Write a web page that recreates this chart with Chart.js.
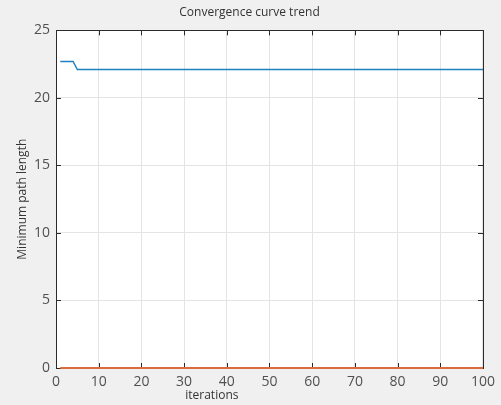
<!DOCTYPE html>
<html>
<head>
<meta charset="utf-8">
<script src="https://cdn.jsdelivr.net/npm/chart.js@4/dist/chart.umd.min.js"></script>
<style>
  html, body { margin: 0; padding: 0; background: #f0f0f0; }
  #wrap { width: 501px; height: 405px; }
</style>
</head>
<body>
<div id="wrap"><canvas id="conv" width="501" height="405"></canvas></div>
<script>
// --- data ---
const iterations = [
  1, 2, 3, 4, 5, 6, 7, 8, 9, 10, 11, 12, 13, 14, 15, 16, 17, 18, 19, 20,
  21, 22, 23, 24, 25, 26, 27, 28, 29, 30, 31, 32, 33, 34, 35, 36, 37, 38, 39, 40,
  41, 42, 43, 44, 45, 46, 47, 48, 49, 50, 51, 52, 53, 54, 55, 56, 57, 58, 59, 60,
  61, 62, 63, 64, 65, 66, 67, 68, 69, 70, 71, 72, 73, 74, 75, 76, 77, 78, 79, 80,
  81, 82, 83, 84, 85, 86, 87, 88, 89, 90, 91, 92, 93, 94, 95, 96, 97, 98, 99, 100
];
// best path length per iteration
const bestLength = [
  22.7, 22.7, 22.7, 22.7, 22.1, 22.1, 22.1, 22.1, 22.1, 22.1,
  22.1, 22.1, 22.1, 22.1, 22.1, 22.1, 22.1, 22.1, 22.1, 22.1,
  22.1, 22.1, 22.1, 22.1, 22.1, 22.1, 22.1, 22.1, 22.1, 22.1,
  22.1, 22.1, 22.1, 22.1, 22.1, 22.1, 22.1, 22.1, 22.1, 22.1,
  22.1, 22.1, 22.1, 22.1, 22.1, 22.1, 22.1, 22.1, 22.1, 22.1,
  22.1, 22.1, 22.1, 22.1, 22.1, 22.1, 22.1, 22.1, 22.1, 22.1,
  22.1, 22.1, 22.1, 22.1, 22.1, 22.1, 22.1, 22.1, 22.1, 22.1,
  22.1, 22.1, 22.1, 22.1, 22.1, 22.1, 22.1, 22.1, 22.1, 22.1,
  22.1, 22.1, 22.1, 22.1, 22.1, 22.1, 22.1, 22.1, 22.1, 22.1,
  22.1, 22.1, 22.1, 22.1, 22.1, 22.1, 22.1, 22.1, 22.1, 22.1
];
// second curve stays at zero
const otherLength = [
  0, 0, 0, 0, 0, 0, 0, 0, 0, 0, 0, 0, 0, 0, 0, 0, 0, 0, 0, 0,
  0, 0, 0, 0, 0, 0, 0, 0, 0, 0, 0, 0, 0, 0, 0, 0, 0, 0, 0, 0,
  0, 0, 0, 0, 0, 0, 0, 0, 0, 0, 0, 0, 0, 0, 0, 0, 0, 0, 0, 0,
  0, 0, 0, 0, 0, 0, 0, 0, 0, 0, 0, 0, 0, 0, 0, 0, 0, 0, 0, 0,
  0, 0, 0, 0, 0, 0, 0, 0, 0, 0, 0, 0, 0, 0, 0, 0, 0, 0, 0, 0
];
const xTicks = [0, 10, 20, 30, 40, 50, 60, 70, 80, 90, 100];
const yTicks = [0, 5, 10, 15, 20, 25];

const FONT = '"Open Sans", "Noto Sans", sans-serif';
const TEXT = '#505050';
const BOX = '#2b2b2b';

const toPoints = (ys) => ys.map((y, i) => ({ x: iterations[i], y: y }));

// white plot area, box with inward ticks, and the x label (sits left of centre)
const framePlugin = {
  id: 'frame',
  beforeDraw(chart) {
    const { ctx, chartArea: a } = chart;
    ctx.save();
    ctx.fillStyle = '#f0f0f0';
    ctx.fillRect(0, 0, chart.width, chart.height);
    ctx.fillStyle = '#ffffff';
    ctx.fillRect(a.left, a.top, a.right - a.left, a.bottom - a.top);
    ctx.restore();
  },
  beforeDatasetsDraw(chart) {
    const { ctx, chartArea: a, scales } = chart;
    ctx.save();
    ctx.strokeStyle = BOX;
    ctx.lineWidth = 1;
    ctx.beginPath();
    xTicks.forEach(v => {
      const px = Math.round(scales.x.getPixelForValue(v)) + 0.5;
      ctx.moveTo(px, a.bottom); ctx.lineTo(px, a.bottom - 5);
      ctx.moveTo(px, a.top); ctx.lineTo(px, a.top + 5);
    });
    yTicks.forEach(v => {
      const py = Math.round(scales.y.getPixelForValue(v)) + 0.5;
      ctx.moveTo(a.left, py); ctx.lineTo(a.left + 5, py);
      ctx.moveTo(a.right, py); ctx.lineTo(a.right - 5, py);
    });
    ctx.stroke();
    ctx.strokeRect(Math.round(a.left) + 0.5, Math.round(a.top) + 0.5,
                   Math.round(a.right - a.left), Math.round(a.bottom - a.top));

    ctx.fillStyle = '#333333';
    ctx.font = '12px ' + FONT;
    ctx.textAlign = 'center';
    ctx.textBaseline = 'middle';
    ctx.fillText('iterations', scales.x.getPixelForValue(36.5), 396);
    ctx.restore();
  }
};

new Chart(document.getElementById('conv'), {
  type: 'line',
  data: {
    datasets: [
      {
        label: 'best',
        data: toPoints(bestLength),
        borderColor: '#1f7fc0',
        borderWidth: 1.4,
        pointRadius: 0,
        tension: 0,
        clip: 3
      },
      {
        label: 'other',
        data: toPoints(otherLength),
        borderColor: '#dd6a3c',
        borderWidth: 2,
        pointRadius: 0,
        tension: 0,
        clip: 3
      }
    ]
  },
  options: {
    responsive: false,
    animation: false,
    events: [],
    layout: { padding: { left: 15, right: 17, top: 0, bottom: 0 } },
    plugins: {
      legend: { display: false },
      tooltip: { enabled: false },
      title: {
        display: true,
        text: 'Convergence curve trend',
        color: '#333333',
        font: { family: FONT, size: 12, weight: 'normal' },
        padding: { top: 5, bottom: 11 }
      }
    },
    scales: {
      x: {
        type: 'linear',
        min: 0,
        max: 100,
        afterBuildTicks: (s) => { s.ticks = xTicks.map(v => ({ value: v })); },
        afterFit: (s) => { s.height = 37; },
        grid: { color: '#e4e4e4', drawTicks: false },
        border: { display: false },
        ticks: { color: TEXT, padding: 6, font: { family: FONT, size: 14 } }
      },
      y: {
        min: 0,
        max: 25,
        afterBuildTicks: (s) => { s.ticks = yTicks.map(v => ({ value: v })); },
        afterFit: (s) => { s.width = 41; },
        grid: { color: '#e4e4e4', drawTicks: false },
        border: { display: false },
        ticks: { color: TEXT, padding: 6, font: { family: FONT, size: 14 } },
        title: {
          display: true,
          text: 'Minimum path length',
          color: '#333333',
          padding: { top: 0, bottom: 0 },
          font: { family: FONT, size: 12 }
        }
      }
    }
  },
  plugins: [framePlugin]
});
</script>
</body>
</html>
